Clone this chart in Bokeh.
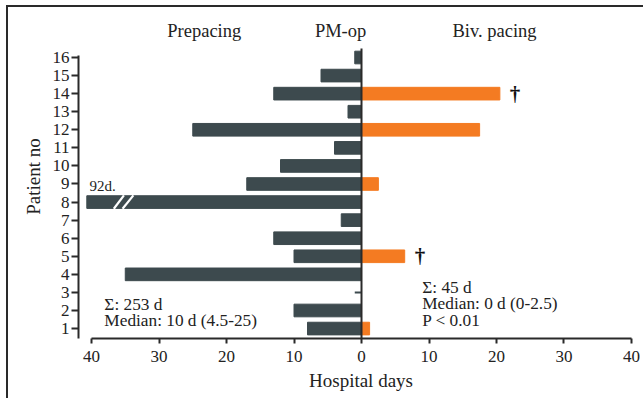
from bokeh.plotting import figure
from bokeh.models import Range1d, FixedTicker, Label, ColumnDataSource
from bokeh.core.properties import value
from bokeh.embed import file_html
from bokeh.resources import INLINE

# ---- data ----
patients = list(range(1, 17))
prepacing_days = [8, 10, 0, 35, 10, 13, 3, 92, 17, 12, 4, 25, 2, 13, 6, 1]
biv_days = [1.2, 0, 0, 0, 6.4, 0, 0, 0, 2.5, 0, 0, 17.5, 0, 20.5, 0, 0]
deceased = [5, 14]
x_ticks = [-40, -30, -20, -10, 0, 10, 20, 30, 40]
headers = ["Prepacing", "PM-op", "Biv. pacing"]
left_notes = ["\u03a3: 253 d", "Median: 10 d (4.5-25)"]
right_notes = ["\u03a3: 45 d", "Median: 0 d (0-2.5)", "P < 0.01"]

FNAME = "Liberation Serif"
FONT = value(FNAME)
DARK = "#3d4a4e"
ORANGE = "#f47b22"
AXC = "#2a2a2a"
CLIP = 40.7  # bars beyond this are drawn broken

Y0, Y1 = 0.45, 18.38
p = figure(frame_width=565, frame_height=324, output_backend="svg",
           toolbar_location=None,
           x_range=Range1d(-41.93, 41.78), y_range=Range1d(Y0, Y1),
           min_border_left=70, min_border_right=0, min_border_top=7,
           min_border_bottom=60)
p.outline_line_color = None
p.xgrid.visible = False
p.ygrid.visible = False
p.styles = {"border-left": "2px solid #2a2a2a", "border-top": "2px solid #2a2a2a",
            "margin-left": "6px", "margin-top": "5px"}

# prepacing bars (negative direction)
shown = [-min(v, CLIP) for v in prepacing_days]
src_l = ColumnDataSource(dict(y=[pt for pt, v in zip(patients, prepacing_days) if v > 0],
                              x=[s for s, v in zip(shown, prepacing_days) if v > 0]))
p.hbar(y="y", left="x", right=0, height=0.7, source=src_l, color=DARK)
zero_pts = [pt for pt, v in zip(patients, prepacing_days) if v == 0]
p.segment(x0=[-1.0] * len(zero_pts), x1=[0] * len(zero_pts), y0=zero_pts, y1=zero_pts,
          line_color=DARK, line_width=2)

# break marks on clipped bars
for pt, v in zip(patients, prepacing_days):
    if v > CLIP:
        p.segment(x0=[-36.7, -35.4], y0=[pt - 0.37] * 2, x1=[-35.2, -33.8], y1=[pt + 0.37] * 2,
                  line_color="white", line_width=2.2)
        p.add_layout(Label(x=-40.3, y=pt + 0.87, text=f"{v}d.", text_font=FNAME,
                           text_font_size="15px", text_baseline="middle", text_color="#222"))

# biv pacing bars
src_r = ColumnDataSource(dict(y=[pt for pt, v in zip(patients, biv_days) if v > 0],
                              x=[v for v in biv_days if v > 0]))
p.hbar(y="y", left=0, right="x", height=0.7, source=src_r, color=ORANGE)

# daggers
dag_x = [biv_days[d - 1] for d in deceased]
p.text(x=dag_x, y=deceased, text=["\u2020"] * len(deceased), x_offset=10,
       text_font=FONT, text_font_size="21px", text_font_style="bold",
       text_baseline="middle", text_align="left", text_color="#111")

# zero line (PM-op)
p.segment(x0=[0], x1=[0], y0=[Y0], y1=[16.5], line_color=AXC, line_width=2)

# headers
for h, hx in zip(headers, [-23.3, -3.1, 19.7]):
    p.add_layout(Label(x=hx, y=17.49, text=h, text_font=FNAME, text_font_size="18.5px",
                       text_align="center", text_baseline="middle", text_color="#222"))

# notes
for t, ly in zip(left_notes, [2.33, 1.44]):
    p.add_layout(Label(x=-38.1, y=ly, text=t, text_font=FNAME, text_font_size="17.3px",
                       text_baseline="middle", text_color="#222"))
for t, ly in zip(right_notes, [3.27, 2.38, 1.44]):
    p.add_layout(Label(x=9.0, y=ly, text=t, text_font=FNAME, text_font_size="17.3px",
                       text_baseline="middle", text_color="#222"))

# axes
xa = p.xaxis[0]
xa.ticker = FixedTicker(ticks=x_ticks)
xa.major_label_overrides = {t: str(abs(t)) for t in x_ticks}
xa.bounds = (-40, 40)
xa.axis_label = "Hospital days"
ya = p.yaxis[0]
ya.ticker = FixedTicker(ticks=patients)
ya.bounds = (Y0, 16.1)
ya.axis_label = "Patient no"
for ax in (xa, ya):
    ax.minor_tick_line_color = None
    ax.axis_line_color = AXC
    ax.axis_line_width = 2
    ax.major_tick_line_color = AXC
    ax.major_tick_line_width = 2
    ax.major_tick_in = 0
    ax.major_label_text_font = FNAME
    ax.major_label_text_font_size = "17px"
    ax.major_label_text_color = "#222"
    ax.axis_label_text_font = FNAME
    ax.axis_label_text_font_size = "19px"
    ax.axis_label_text_font_style = "normal"
    ax.axis_label_text_color = "#222"
xa.major_tick_out = 5
xa.major_label_standoff = 7
xa.axis_label_standoff = 5
ya.major_tick_out = 7
ya.major_label_standoff = 2
ya.axis_label_standoff = 6

open("out.html", "w").write(file_html(p, INLINE))
